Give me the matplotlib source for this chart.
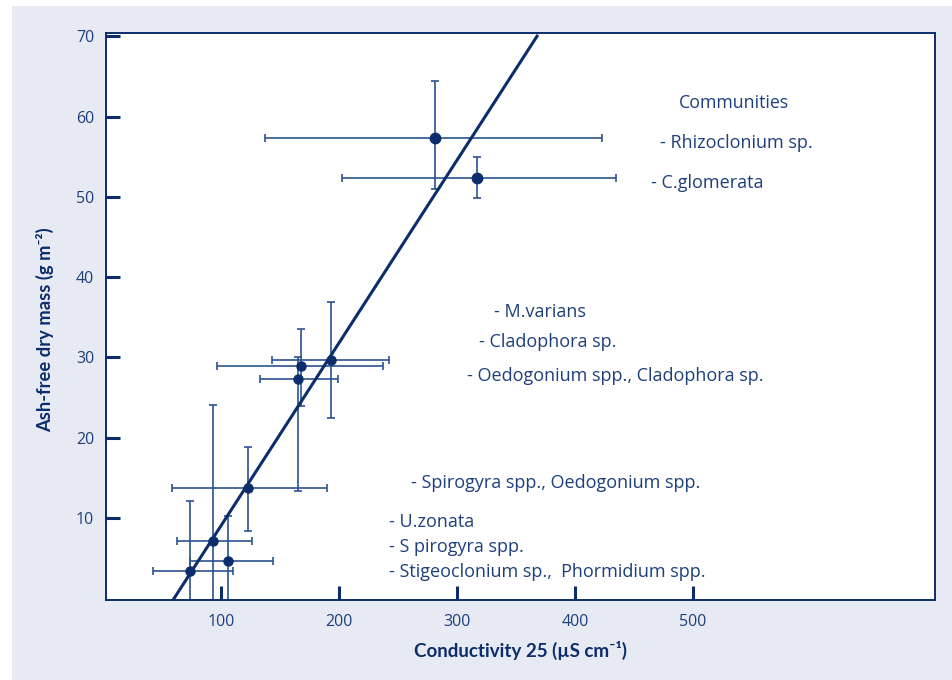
import matplotlib.pyplot as plt
from matplotlib.patches import Rectangle

plt.rcParams['font.family'] = ['Open Sans', 'DejaVu Sans']

# conductivity (uS/cm) and ash-free dry mass (g/m2), with error ranges
cond = [281.4, 317.0, 192.9, 167.8, 165.3, 123.2, 92.9, 106.2, 73.7]
cond_lo = [137.3, 202.3, 143.0, 96.9, 133.0, 58.2, 62.5, 73.7, 42.6]
cond_hi = [422.6, 434.7, 242.6, 237.5, 199.2, 189.8, 126.0, 143.8, 109.9]
mass = [57.3, 52.3, 29.7, 28.9, 27.3, 13.7, 7.2, 4.7, 3.4]
# the last three bars run off the bottom of the plot
mass_lo = [51.0, 49.8, 22.4, 24.0, 13.4, 8.4, -1.0, -1.0, -1.0]
mass_hi = [64.4, 55.0, 36.9, 33.5, 30.1, 18.9, 24.1, 10.3, 12.1]

# regression line
fit_slope = 0.2276
fit_icpt = -13.7
fit_x = [60.2, 367.8]

communities = ["- Rhizoclonium sp.", "- C.glomerata", "- M.varians", "- Cladophora sp.",
               "- Oedogonium spp., Cladophora sp.", "- Spirogyra spp., Oedogonium spp.",
               "- U.zonata", "- S pirogyra spp.", "- Stigeoclonium sp.,  Phormidium spp."]
label_x = [472, 464.4, 331.4, 318.6, 308.5, 261, 242.4, 242.4, 242.4]
label_y = [56.7, 51.7, 35.7, 31.9, 27.7, 14.4, 9.5, 6.4, 3.3]

navy = "#0b2d6b"
bar_col = "#2c5290"
txt_col = "#1d3f7c"
lab_font = ['Lato', 'DejaVu Sans']

fig = plt.figure(figsize=(9.52, 6.8), dpi=100, facecolor="white")
fig.patches.append(Rectangle((12 / 952, 0), 1, 674 / 680, transform=fig.transFigure,
                             facecolor="#e7eaf3", edgecolor="none", zorder=-10))
ax = fig.add_axes([106 / 952, 80 / 680, 829 / 952, 567 / 680])
ax.set_zorder(5)
ax.set_facecolor("white")

xerr = [[c - lo for c, lo in zip(cond, cond_lo)], [hi - c for c, hi in zip(cond, cond_hi)]]
yerr = [[m - lo for m, lo in zip(mass, mass_lo)], [hi - m for m, hi in zip(mass, mass_hi)]]
ax.errorbar(cond, mass, xerr=xerr, yerr=yerr, fmt="none", ecolor=bar_col,
            elinewidth=1.2, capsize=3, capthick=1.2, zorder=2)
ax.plot(cond[:2], mass[:2], "o", color=navy, markersize=7.5, zorder=4)
ax.plot(cond[2:], mass[2:], "o", color=navy, markersize=6.5, zorder=4)

fit_y = [fit_slope * x + fit_icpt for x in fit_x]
ax.plot(fit_x, fit_y, color=navy, lw=2.2, zorder=3)

ax.text(488, 61.7, "Communities", color=txt_col, fontsize=12.8, va="center")
for t, x, y in zip(communities, label_x, label_y):
    ax.text(x, y, t, color=txt_col, fontsize=13, va="center")

ax.set_xlim(2.5, 705)
ax.set_ylim(-0.2, 70.4)
ax.set_xticks([100, 200, 300, 400, 500])
ax.set_yticks([10, 20, 30, 40, 50, 60, 70])
ax.tick_params(axis="both", direction="in", colors=navy, width=2.2, length=10,
               labelcolor=txt_col, labelsize=11.5)
ax.tick_params(axis="x", pad=10)
ax.tick_params(axis="y", pad=8.5)
for s in ax.spines.values():
    s.set_color(navy)
    s.set_linewidth(1.4)

ax.set_xlabel("Conductivity 25 (µS cm⁻¹)", color=navy, fontsize=13.5,
              fontweight="bold", labelpad=8, family=lab_font)
ax.set_ylabel("Ash-free dry mass (g m⁻²)", color=navy, fontsize=13.2,
              fontweight="bold", family=lab_font)
ax.yaxis.set_label_coords(-0.062, 0.476)

plt.savefig("out.png", dpi=100)
